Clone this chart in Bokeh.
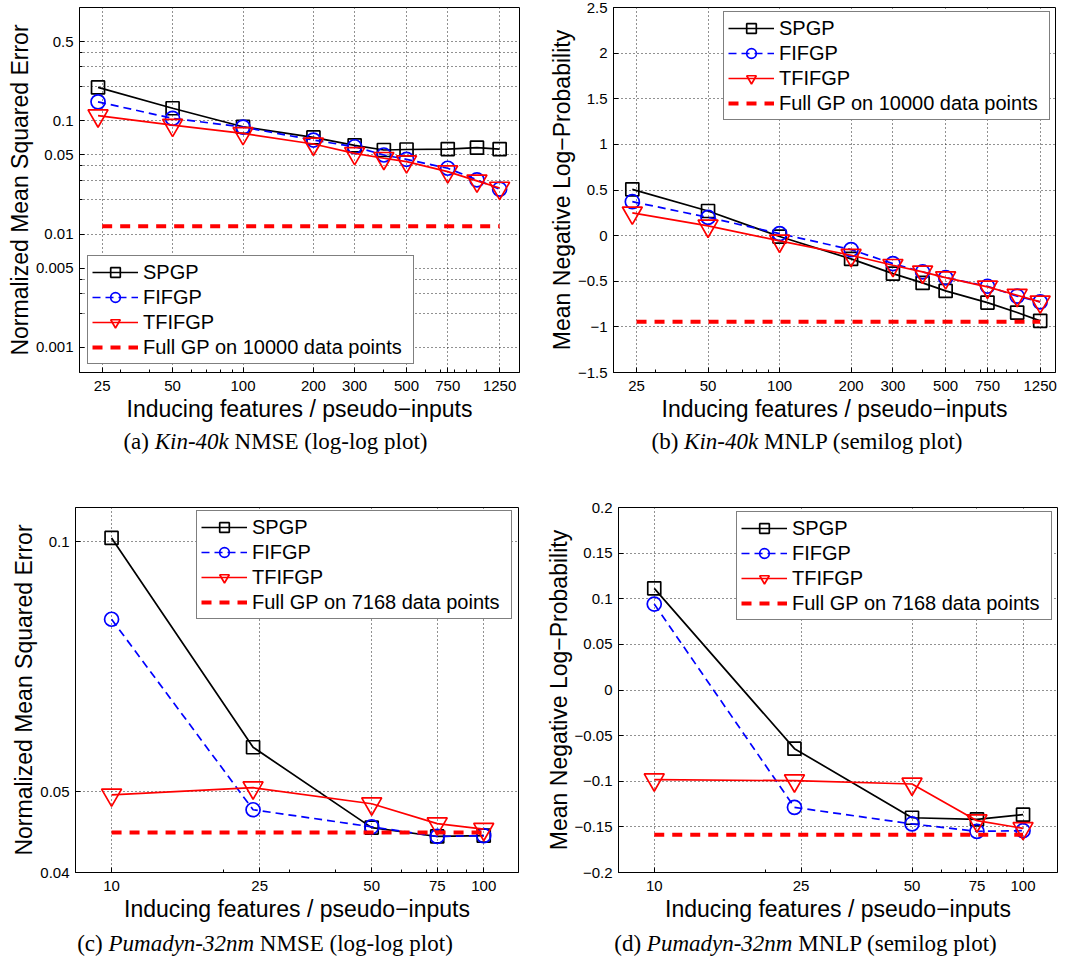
from bokeh.plotting import figure
from bokeh.models import FixedTicker, Legend, LegendItem, Div, Range1d
from bokeh.layouts import column, row
from bokeh.embed import file_html
from bokeh.resources import INLINE

# ---------------- data ----------------
kin_x = [24, 50, 100, 200, 300, 400, 500, 750, 1000, 1250]
kin_full_x = [25, 1250]
kin_nmse_spgp = [0.197, 0.129, 0.0886, 0.0713, 0.0607, 0.0552, 0.0558, 0.0563, 0.0579, 0.0563]
kin_nmse_fifgp = [0.147, 0.105, 0.088, 0.0676, 0.059, 0.0499, 0.0457, 0.0381, 0.0301, 0.0249]
kin_nmse_tfifgp = [0.111, 0.0916, 0.0774, 0.0624, 0.0516, 0.0467, 0.0436, 0.0356, 0.0295, 0.0255]
kin_nmse_full = [0.0117, 0.0117]

kin_mnlp_spgp = [0.507, 0.27, -0.01, -0.255, -0.416, -0.518, -0.606, -0.734, -0.843, -0.934]
kin_mnlp_fifgp = [0.372, 0.2, 0.022, -0.153, -0.307, -0.398, -0.46, -0.555, -0.664, -0.726]
kin_mnlp_tfifgp = [0.25, 0.106, -0.058, -0.215, -0.325, -0.398, -0.46, -0.562, -0.653, -0.726]
kin_mnlp_full = [-0.945, -0.945]

pum_x = [10, 24, 50, 75, 100]
pum_full_x = [10, 100]
pum_nmse_spgp = [0.1011, 0.0566, 0.0453, 0.0442, 0.0443]
pum_nmse_fifgp = [0.0807, 0.0476, 0.0454, 0.0442, 0.0443]
pum_nmse_tfifgp = [0.0496, 0.0506, 0.0484, 0.0458, 0.0451]
pum_nmse_full = [0.0447, 0.0447]

pum_mnlp_spgp = [0.1114, -0.0643, -0.140, -0.1417, -0.1366]
pum_mnlp_fifgp = [0.0942, -0.1286, -0.1468, -0.1549, -0.1542]
pum_mnlp_tfifgp = [-0.0983, -0.0994, -0.103, -0.1432, -0.1516]
pum_mnlp_full = [-0.1585, -0.1585]

kin_xticks = [25, 50, 100, 200, 300, 500, 750, 1250]
kin_xminor = [30, 40, 60, 70, 80, 90, 400, 600, 700, 800, 900, 1000]
pum_xticks = [10, 25, 50, 75, 100]
pum_xminor = [20, 30, 40, 60, 70, 80, 90]

a_yticks = [0.001, 0.005, 0.01, 0.05, 0.1, 0.5]
a_ylabels = ["0.001", "0.005", "0.01", "0.05", "0.1", "0.5"]
a_yminor = [0.002, 0.003, 0.004, 0.02, 0.03, 0.04, 0.2, 0.3, 0.4]
b_yticks = [-1.5, -1, -0.5, 0, 0.5, 1, 1.5, 2, 2.5]
b_ylabels = ["\u22121.5", "\u22121", "\u22120.5", "0", "0.5", "1", "1.5", "2", "2.5"]
c_yticks = [0.04, 0.05, 0.1]
c_ylabels = ["0.04", "0.05", "0.1"]
d_yticks = [-0.2, -0.15, -0.1, -0.05, 0, 0.05, 0.1, 0.15, 0.2]
d_ylabels = ["\u22120.2", "\u22120.15", "\u22120.1", "\u22120.05", "0", "0.05", "0.1", "0.15", "0.2"]

series_names = ["SPGP", "FIFGP", "TFIFGP"]
xlabel = "Inducing features / pseudo\u2212inputs"
nmse_label = "Normalized Mean Squared Error"
mnlp_label = "Mean Negative Log\u2212Probability"

SANS = "Liberation Sans"
SERIF = "Liberation Serif"


def make_panel(xr, yr, ylog, xticks, xminor, yticks, ylabels, yminor, ylab,
               ys, xs, full_x, full_y, full_label, legend_loc, label_w,
               width, height, bl, br, bt, bb):
    p = figure(width=width, height=height,
               x_axis_type="log", y_axis_type="log" if ylog else "linear",
               x_range=Range1d(*xr), y_range=Range1d(*yr),
               output_backend="svg", toolbar_location=None,
               min_border_left=bl, min_border_right=br,
               min_border_top=bt, min_border_bottom=bb)
    p.outline_line_color = "black"
    p.outline_line_width = 1
    p.background_fill_color = "white"
    p.border_fill_color = "white"

    xt = FixedTicker(ticks=xticks, minor_ticks=xminor)
    yt = FixedTicker(ticks=yticks, minor_ticks=yminor)
    p.xaxis.ticker = xt
    p.yaxis.ticker = yt
    p.xgrid.ticker = xt
    p.ygrid.ticker = yt
    p.xaxis.major_label_overrides = {t: str(t) for t in xticks}
    p.yaxis.major_label_overrides = {t: l for t, l in zip(yticks, ylabels)}
    p.xaxis.axis_label = xlabel
    p.yaxis.axis_label = ylab
    for ax in (p.xaxis[0], p.yaxis[0]):
        ax.major_tick_in = 5
        ax.major_tick_out = 0
        ax.minor_tick_in = 3
        ax.minor_tick_out = 0
        ax.axis_line_color = "black"
        ax.major_tick_line_color = "black"
        ax.minor_tick_line_color = "black"
        ax.major_label_text_font = SANS
        ax.major_label_text_font_size = "15px"
        ax.major_label_text_color = "black"
        ax.axis_label_text_font = SANS
        ax.axis_label_text_font_size = "23px"
        ax.axis_label_text_font_style = "normal"
        ax.axis_label_text_color = "black"
    p.xaxis.major_label_standoff = 8
    p.xaxis.axis_label_standoff = 2
    p.yaxis.major_label_standoff = 6
    p.yaxis.axis_label_standoff = 0
    for g in (p.xgrid[0], p.ygrid[0]):
        g.grid_line_color = "#222222"
        g.grid_line_dash = "1 3"
        g.grid_line_width = 1
    if yminor:
        p.ygrid.minor_grid_line_color = "#222222"
        p.ygrid.minor_grid_line_dash = "1 3"

    styles = [
        dict(color="black", dash="solid", marker="square", size=13),
        dict(color="blue", dash="8 5", marker="circle", size=14),
        dict(color="red", dash="solid", marker="inverted_triangle", size=20),
    ]
    items = []
    for name, yv, st in zip(series_names, ys, styles):
        lr = p.line(xs, yv, line_color=st["color"], line_width=1.7, line_dash=st["dash"])
        sr = p.scatter(xs, yv, marker=st["marker"], size=st["size"],
                       line_color=st["color"], fill_color=None, line_width=1.7)
        items.append(LegendItem(label=name, renderers=[lr, sr]))
    fr = p.line(full_x, full_y, line_color="red", line_width=4, line_dash="10 8")
    items.append(LegendItem(label=full_label, renderers=[fr]))

    leg = Legend(items=items, location=legend_loc)
    leg.label_text_font = SANS
    leg.label_text_font_size = "20px"
    leg.label_text_color = "black"
    leg.glyph_width = 46
    leg.glyph_height = 24
    leg.label_height = 24
    leg.label_width = label_w
    leg.label_standoff = 5
    leg.spacing = 1
    leg.padding = 4
    leg.margin = 0
    leg.border_line_color = "black"
    leg.border_line_width = 1
    leg.background_fill_color = "white"
    leg.background_fill_alpha = 1
    p.add_layout(leg)
    return p


pa = make_panel((20, 1520), (0.0006, 1), True, kin_xticks, kin_xminor, a_yticks, a_ylabels,
                a_yminor, nmse_label,
                [kin_nmse_spgp, kin_nmse_fifgp, kin_nmse_tfifgp], kin_x,
                kin_full_x, kin_nmse_full, "Full GP on 10000 data points", (8, 8), 266,
                537, 430, 79, 18, 7, 57)
pb = make_panel((20, 1450), (-1.5, 2.5), False, kin_xticks, kin_xminor, b_yticks, b_ylabels,
                [], mnlp_label,
                [kin_mnlp_spgp, kin_mnlp_fifgp, kin_mnlp_tfifgp], kin_x,
                kin_full_x, kin_mnlp_full, "Full GP on 10000 data points", (110, 252), 266,
                537, 430, 76, 19, 6, 58)
pc = make_panel((8, 124), (0.04, 0.11), True, pum_xticks, pum_xminor, c_yticks, c_ylabels,
                [], nmse_label,
                [pum_nmse_spgp, pum_nmse_fifgp, pum_nmse_tfifgp], pum_x,
                pum_full_x, pum_nmse_full, "Full GP on 7168 data points", (121, 253), 255,
                537, 478, 75, 19, 51, 60)
pd_ = make_panel((8, 124), (-0.2, 0.2), False, pum_xticks, pum_xminor, d_yticks, d_ylabels,
                 [], mnlp_label,
                 [pum_mnlp_spgp, pum_mnlp_fifgp, pum_mnlp_tfifgp], pum_x,
                 pum_full_x, pum_mnlp_full, "Full GP on 7168 data points", (118, 252), 255,
                 537, 478, 81, 17, 53, 60)


def caption(html, pad_left=0, pad_right=0):
    return Div(text=html, width=537, height=24, margin=(0, 0, 0, 0),
               styles={"font-family": SERIF, "font-size": "23px", "color": "black",
                       "text-align": "center", "line-height": "24px",
                       "padding-left": "%dpx" % pad_left,
                       "padding-right": "%dpx" % pad_right,
                       "box-sizing": "border-box", "white-space": "nowrap"})


cap_a = caption("(a) <i>Kin-40k</i> NMSE (log-log plot)", 14, 0)
cap_b = caption("(b) <i>Kin-40k</i> MNLP (semilog plot)", 3, 0)
cap_c = caption("(c) <i>Pumadyn-32nm</i> NMSE (log-log plot)", 0, 7)
cap_d = caption("(d) <i>Pumadyn-32nm</i> MNLP (semilog plot)", 0, 0)

layout = column(row(pa, pb), row(cap_a, cap_b), row(pc, pd_), row(cap_c, cap_d))

open("out.html", "w").write(file_html(layout, INLINE))
